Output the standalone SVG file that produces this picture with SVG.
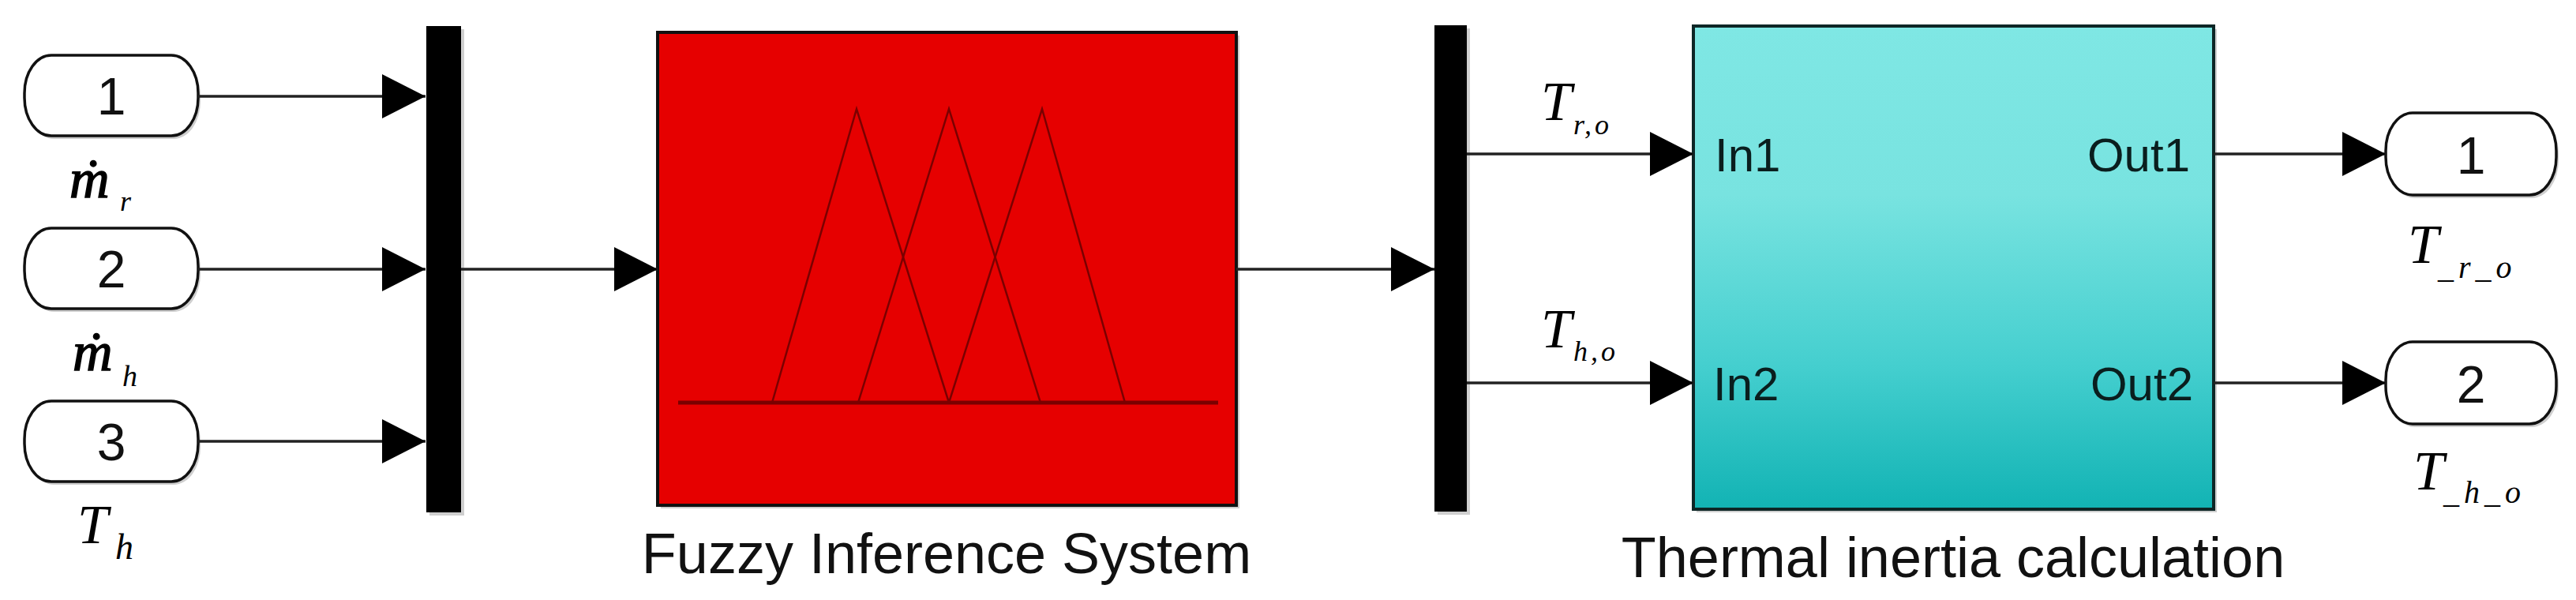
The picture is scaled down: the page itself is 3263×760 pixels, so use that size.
<svg xmlns="http://www.w3.org/2000/svg" width="3263" height="760" viewBox="0 0 3263 760">
<style>
.port{fill:#fff;stroke:#111;stroke-width:3.5}
.num{font-family:"Liberation Sans",Arial,sans-serif;font-size:66px;fill:#111;text-anchor:middle}
.math{font-family:"Liberation Serif","Times New Roman",serif;font-style:italic;fill:#000}
.heavy{stroke:#000;stroke-width:1.5}
.lbl{font-family:"Liberation Sans",Arial,sans-serif;font-size:72px;fill:#111;text-anchor:middle}
.pl{font-family:"Liberation Sans",Arial,sans-serif;font-size:60px;fill:#0a1e1e}
.wire{stroke:#222;stroke-width:3.5;fill:none;marker-end:url(#ah)}
.bar{fill:#000}
.shadow{fill:#cfcfcf}
.mf{stroke:#7a0000;stroke-width:2.5;fill:none}
</style>
<defs>
<marker id="ah" viewBox="0 0 55 56" markerWidth="55" markerHeight="56" markerUnits="userSpaceOnUse" refX="55" refY="28" orient="auto">
<path d="M0,0 L55,28 L0,56 Z" fill="#000"/>
</marker>
<linearGradient id="cyan" x1="0" y1="0" x2="0" y2="1">
<stop offset="0" stop-color="#7fe7e4"/>
<stop offset="0.35" stop-color="#78e3e0"/>
<stop offset="0.7" stop-color="#45cfcf"/>
<stop offset="1" stop-color="#12b3b4"/>
</linearGradient>
</defs>
<rect width="3263" height="760" fill="#fff"/>

<g id="in1">
<rect x="34" y="74" width="220" height="102" rx="34" ry="48" class="shadow"/>
<rect x="31" y="70" width="220" height="102" rx="34" ry="48" class="port"/>
<text x="141" y="145" class="num">1</text>
<text x="88" y="250" class="math heavy" font-size="70">ṁ</text>
<text x="152" y="267" class="math" font-size="36">r</text>
</g>
<g id="in2">
<rect x="34" y="293" width="220" height="102" rx="34" ry="48" class="shadow"/>
<rect x="31" y="289" width="220" height="102" rx="34" ry="48" class="port"/>
<text x="141" y="364" class="num">2</text>
<text x="92" y="469" class="math heavy" font-size="70">ṁ</text>
<text x="155" y="489" class="math" font-size="38">h</text>
</g>
<g id="in3">
<rect x="34" y="512" width="220" height="102" rx="34" ry="48" class="shadow"/>
<rect x="31" y="508" width="220" height="102" rx="34" ry="48" class="port"/>
<text x="141" y="583" class="num">3</text>
<text x="98" y="688" class="math" font-size="70">T</text>
<text x="146" y="708" class="math" font-size="46">h</text>
</g>

<g id="mux1">
<rect x="544" y="37" width="44" height="616" class="shadow"/>
<rect x="540" y="33" width="44" height="616" class="bar"/>
</g>

<g id="fuzzy">
<rect x="837" y="45" width="733" height="599" class="shadow"/>
<rect x="833" y="41" width="733" height="599" fill="#e60000" stroke="#111" stroke-width="4"/>
<line x1="859" y1="510" x2="1543" y2="510" stroke="#7a0000" stroke-width="5"/>
<polyline points="978,510 1085,138 1202,510" class="mf"/>
<polyline points="1087,510 1202,138 1318,510" class="mf"/>
<polyline points="1202,510 1320,138 1425,510" class="mf"/>
<text x="1199" y="726" class="lbl">Fuzzy Inference System</text>
</g>

<g id="mux2">
<rect x="1821" y="36" width="41" height="616" class="shadow"/>
<rect x="1817" y="32" width="41" height="616" class="bar"/>
</g>

<g id="thermal">
<rect x="2149" y="37" width="659" height="612" class="shadow"/>
<rect x="2145" y="33" width="659" height="612" fill="url(#cyan)" stroke="#0d2626" stroke-width="4"/>
<text x="2172" y="217" class="pl">In1</text>
<text x="2170" y="507" class="pl">In2</text>
<text x="2774" y="217" class="pl" text-anchor="end">Out1</text>
<text x="2778" y="507" class="pl" text-anchor="end">Out2</text>
<text x="2474" y="731" class="lbl">Thermal inertia calculation</text>
</g>

<g id="out1">
<rect x="3025" y="147" width="216" height="104" rx="34" ry="48" class="shadow"/>
<rect x="3022" y="143" width="216" height="104" rx="34" ry="48" class="port"/>
<text x="3130" y="220" class="num">1</text>
<text x="3050" y="333" class="math" font-size="70">T</text>
<text x="3088" y="352" class="math" font-size="40" letter-spacing="6">_r_o</text>
</g>
<g id="out2">
<rect x="3025" y="437" width="216" height="104" rx="34" ry="48" class="shadow"/>
<rect x="3022" y="433" width="216" height="104" rx="34" ry="48" class="port"/>
<text x="3130" y="510" class="num">2</text>
<text x="3057" y="620" class="math" font-size="70">T</text>
<text x="3095" y="637" class="math" font-size="40" letter-spacing="6">_h_o</text>
</g>

<g id="connectors">
<line x1="251" y1="122" x2="539" y2="122" class="wire"/>
<line x1="251" y1="341" x2="539" y2="341" class="wire"/>
<line x1="251" y1="559" x2="539" y2="559" class="wire"/>
<line x1="584" y1="341" x2="833" y2="341" class="wire"/>
<line x1="1566" y1="341" x2="1817" y2="341" class="wire"/>
<line x1="1858" y1="195" x2="2145" y2="195" class="wire"/>
<line x1="1858" y1="485" x2="2145" y2="485" class="wire"/>
<line x1="2804" y1="195" x2="3022" y2="195" class="wire"/>
<line x1="2804" y1="485" x2="3022" y2="485" class="wire"/>
<text x="1952" y="152" class="math" font-size="70">T</text>
<text x="1993" y="170" class="math" font-size="36" letter-spacing="4">r,o</text>
<text x="1952" y="440" class="math" font-size="70">T</text>
<text x="1993" y="457" class="math" font-size="36" letter-spacing="4">h,o</text>
</g>
</svg>
